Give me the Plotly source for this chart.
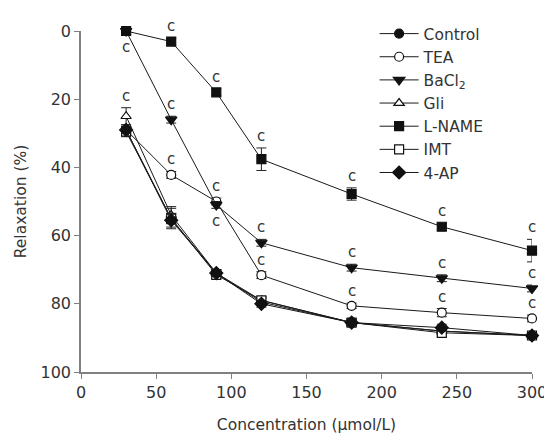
import plotly.graph_objects as go

conc = [30, 60, 90, 120, 180, 240, 300]

series_names = ["Control", "TEA", "BaCl<sub>2</sub>", "Gli", "L-NAME", "IMT", "4-AP"]
control = [29, 55, 71, 79.5, 85.5, 88, 89.3]
tea = [29, 42.2, 50, 71.6, 80.6, 82.6, 84.3]
bacl2 = [0, 26, 51, 62.1, 69.4, 72.5, 75.5]
gli = [25, 54, 71, 79, 85.5, 88, 89.3]
lname = [0, 3.1, 18, 37.6, 47.8, 57.4, 64.4]
imt = [29.5, 55, 71.5, 79, 85.5, 88.5, 89.3]
fourap = [29, 55.5, 71, 80, 85.5, 87, 89.3]

control_err = [1.5, 1.5, 1, 1, 1, 1, 1]
tea_err = [1, 1, 1, 1, 0.8, 1.2, 1]
bacl2_err = [1, 1, 1, 1, 1, 1, 1]
gli_err = [2.5, 2.5, 1, 1, 1, 1, 1]
lname_err = [1, 1, 1, 3.3, 1.8, 1, 3.3]
imt_err = [1.5, 3, 1, 1, 1, 1, 1]
fourap_err = [1, 2, 1, 1, 1, 1, 1]

# significance marks "c": position relative to point (above / below / none)
tea_sig = [None, "above", "above", "above", "above", "above", "above"]
bacl2_sig = ["below", "above", "below", "above", "above", "above", "above"]
gli_sig = ["above", None, None, None, None, None, None]
lname_sig = ["above"] * 7

values = [control, tea, bacl2, gli, lname, imt, fourap]
errors = [control_err, tea_err, bacl2_err, gli_err, lname_err, imt_err, fourap_err]
sigs = [None, tea_sig, bacl2_sig, gli_sig, lname_sig, None, None]
symbols = ["circle", "circle-open", "triangle-down", "triangle-up-open", "square", "square-open", "diamond"]
sizes = [9, 9, 10, 9, 9, 9, 10]

FONT = "DejaVu Sans, Verdana, sans-serif"
TXT = "#333333"

fig = go.Figure()
for name, vals, err, sym, sz in zip(series_names, values, errors, symbols, sizes):
    open_ = sym.endswith("-open")
    fig.add_trace(go.Scatter(
        x=conc, y=vals, name=name, mode="lines+markers",
        line=dict(color="#1a1a1a", width=1),
        marker=dict(symbol=sym.replace("-open", ""), size=sz,
                    color="white" if open_ else "#111111",
                    line=dict(color="#111111", width=1.2)),
        error_y=dict(type="data", array=err, visible=True, color="#222222",
                     thickness=1, width=5),
        cliponaxis=False,
    ))

annotations = []
for vals, err, sig in zip(values, errors, sigs):
    if sig is None:
        continue
    for xi, v, e, s in zip(conc, vals, err, sig):
        if s == "above":
            annotations.append(dict(x=xi, y=v - e, text="c", showarrow=False,
                                    yanchor="bottom", yshift=1,
                                    font=dict(size=15, color=TXT)))
        elif s == "below":
            annotations.append(dict(x=xi, y=v + e, text="c", showarrow=False,
                                    yanchor="top", yshift=-2,
                                    font=dict(size=15, color=TXT)))

# the page body adds an 8px offset; the figure is sized to fit the 552x434 window
fig.update_layout(
    width=544, height=426,
    margin=dict(l=73, r=20, t=23, b=62, autoexpand=False),
    plot_bgcolor="white", paper_bgcolor="white",
    font=dict(family=FONT, size=15, color=TXT),
    showlegend=True,
    legend=dict(x=0.651, y=1.041, xanchor="left", yanchor="top",
                font=dict(family=FONT, size=15.5, color=TXT), tracegroupgap=0,
                bgcolor="rgba(0,0,0,0)", itemwidth=39),
    annotations=annotations,
)
fig.update_xaxes(range=[0, 300], tickvals=[0, 50, 100, 150, 200, 250, 300],
                 showline=True, linecolor="#808080", linewidth=1.5,
                 ticks="outside", ticklen=5, tickcolor="#808080",
                 showgrid=False, zeroline=False, automargin=False,
                 title=dict(text="Concentration (μmol/L)", standoff=23,
                            font=dict(family=FONT, size=15.5)),
                 tickfont=dict(family=FONT, size=16))
fig.update_yaxes(range=[100, 0], tickvals=[0, 20, 40, 60, 80, 100],
                 showline=True, linecolor="#808080", linewidth=1.5,
                 ticks="outside", ticklen=5, tickcolor="#808080",
                 showgrid=False, zeroline=False, automargin=False,
                 title=dict(text="Relaxation (%)", standoff=10,
                            font=dict(family=FONT, size=15.5)),
                 tickfont=dict(family=FONT, size=16))

fig.write_html("out.html")
